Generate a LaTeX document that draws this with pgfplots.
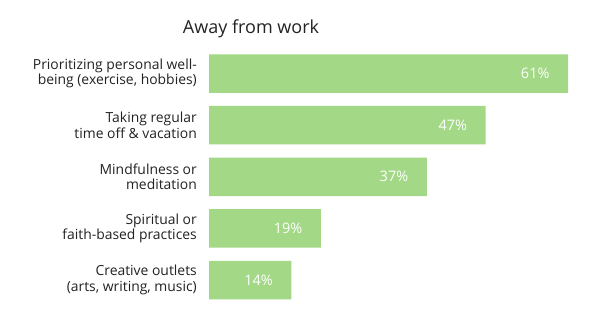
\documentclass[border=0pt]{standalone}
\usepackage{pgfplots}
\pgfplotsset{compat=1.18}
\usepackage{fontspec}
\setmainfont{Open Sans}
\definecolor{barg}{HTML}{A2D886}
\definecolor{txt}{HTML}{222222}
\begin{document}
\begin{tikzpicture}[x=1bp,y=1bp]
\useasboundingbox (0,0) rectangle (600,324);
\begin{axis}[
 at={(209bp,18.2bp)}, anchor=south west,
 scale only axis, width=359bp, height=258bp,
 xmin=0, xmax=61, ymin=-0.5, ymax=4.5, y dir=reverse,
 xbar, bar width=38.5bp, bar shift=0pt,
 axis line style={draw=none}, major tick length=0pt,
 xtick=\empty, ytick={0,1,2,3,4},
 yticklabels={{Prioritizing personal well-\\being (exercise, hobbies)},{Taking regular\\time off \& vacation},{Mindfulness or\\meditation},{Spiritual or\\faith-based practices},{Creative outlets\\(arts, writing, music)}},
 yticklabel style={align=right, font=\fontsize{13.9bp}{15.5bp}\selectfont, inner sep=0pt, xshift=-12bp, text=txt},
 point meta=x,
 /pgf/number format/assume math mode=true,
 nodes near coords={\pgfmathprintnumber{\pgfplotspointmeta}\%},
 every node near coord/.append style={anchor=east, xshift=-15bp, text=white, font=\fontsize{14.5bp}{17bp}\selectfont},
 clip=false,
]
\addplot[fill=barg, draw=none] coordinates {(61,0) (47,1) (37,2) (19,3) (14,4)};
\end{axis}
\node[anchor=base, font=\fontsize{18bp}{22bp}\selectfont, text=txt] at (251,290.7) {Away from work};
\end{tikzpicture}
\end{document}
